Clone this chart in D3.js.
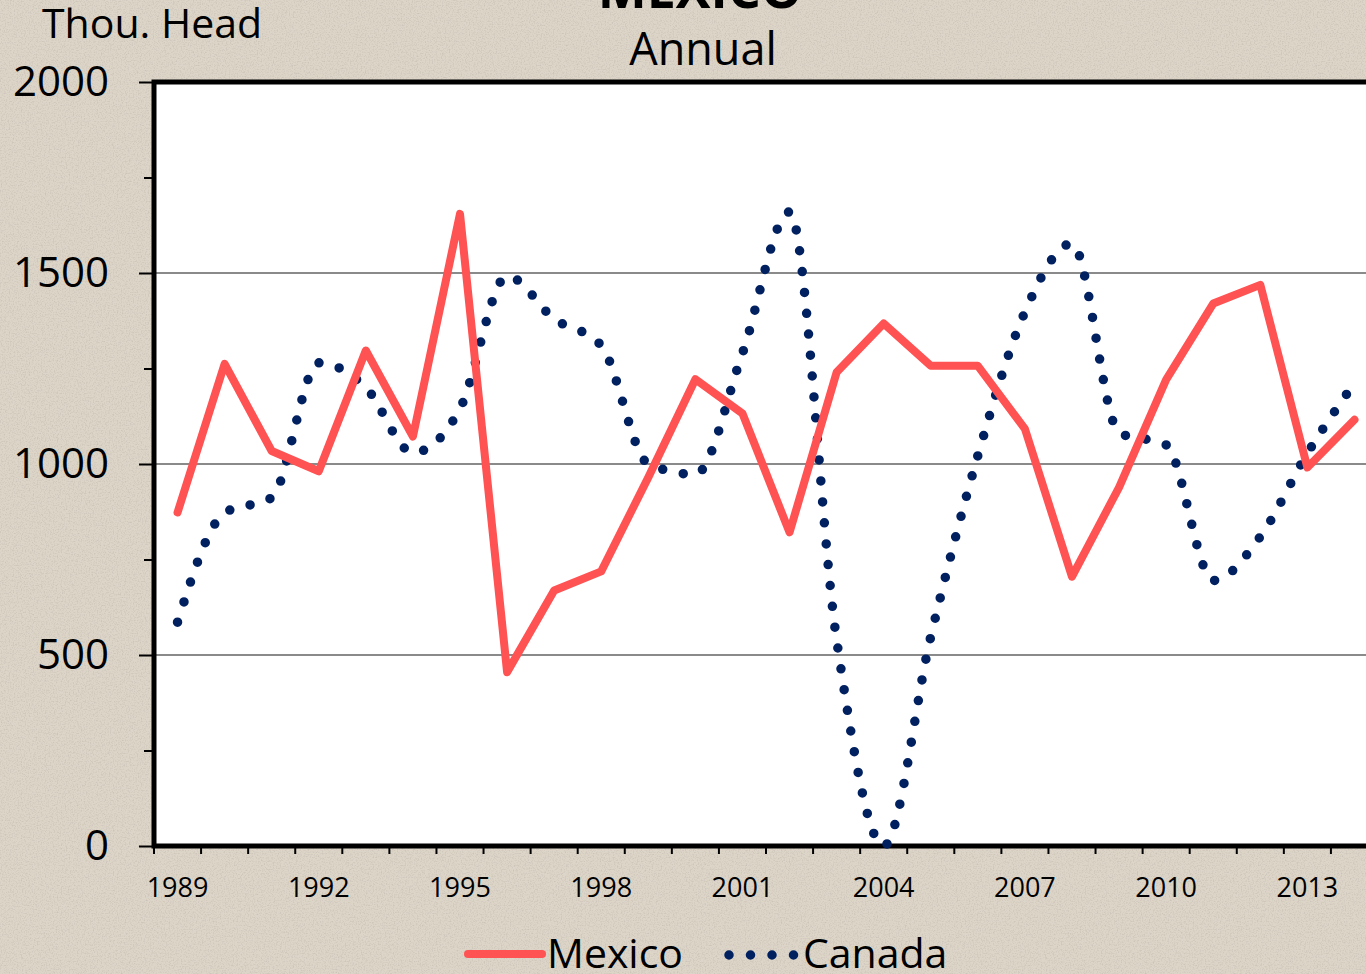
<!DOCTYPE html>
<html>
<head>
<meta charset="utf-8">
<script src="https://cdn.jsdelivr.net/npm/d3@7"></script>
<style>
body { margin: 0; background: #ddd5c7; overflow: hidden; }
text { font-family: "Open Sans", sans-serif; fill: #000; }
</style>
</head>
<body>
<script>
// categories and series
var years = [1989, 1990, 1991, 1992, 1993, 1994, 1995, 1996, 1997, 1998, 1999, 2000, 2001,
             2002, 2003, 2004, 2005, 2006, 2007, 2008, 2009, 2010, 2011, 2012, 2013, 2014];
var mexico = [873, 1262, 1034, 981, 1297, 1072, 1655, 455, 669, 719, 965, 1222, 1132,
              821, 1240, 1368, 1257, 1257, 1092, 705, 939, 1221, 1420, 1469, 991, 1116];
var canada = [586, 872, 912, 1265, 1200, 1030, 1145, 1492, 1380, 1310, 1000, 973, 1290,
              1660, 540, 0, 548, 1022, 1398, 1577, 1082, 1050, 695, 810, 1028, 1212];
var yMajor = [0, 500, 1000, 1500, 2000];
var yMinor = [250, 750, 1250, 1750];
var xLabels = [1989, 1992, 1995, 1998, 2001, 2004, 2007, 2010, 2013];

var W = 1366, H = 974;
var plotL = 154, plotT = 82, plotB = 846, plotR = 1378;

var svg = d3.select("body").append("svg").attr("width", W).attr("height", H);

// paper texture
var defs = svg.append("defs");
var f = defs.append("filter").attr("id", "paper").attr("x", 0).attr("y", 0).attr("width", "100%").attr("height", "100%");
f.append("feTurbulence").attr("type", "fractalNoise").attr("baseFrequency", 0.75).attr("numOctaves", 2).attr("seed", 4);
f.append("feColorMatrix").attr("type", "matrix")
  .attr("values", "0 0 0 0 0.5  0 0 0 0 0.46  0 0 0 0 0.4  0 0 0 -2.6 1.45");
svg.append("rect").attr("width", W).attr("height", H).attr("fill", "#ddd5c8");
svg.append("rect").attr("width", W).attr("height", H).attr("filter", "url(#paper)").attr("opacity", 0.5);

var x = d3.scaleBand().domain(years).range([plotL, plotR]).padding(0);
var y = d3.scaleLinear().domain([0, 2000]).range([plotB, plotT]);
var cx = function(d) { return x(d) + x.bandwidth() / 2; };

// plot area
svg.append("rect").attr("x", plotL).attr("y", plotT).attr("width", plotR - plotL).attr("height", plotB - plotT)
  .attr("fill", "#fff");

// gridlines
svg.append("g").selectAll("line").data([500, 1000, 1500]).enter().append("line")
  .attr("x1", plotL).attr("x2", plotR)
  .attr("y1", d => y(d)).attr("y2", d => y(d))
  .attr("stroke", "#8a8a8a").attr("stroke-width", 2);

// y axis
var yAxis = svg.append("g").attr("transform", "translate(" + plotL + ",0)")
  .call(d3.axisLeft(y).tickValues(yMajor).tickSize(15).tickPadding(30).tickFormat(d3.format("d")));
svg.append("g").attr("transform", "translate(" + plotL + ",0)")
  .call(d3.axisLeft(y).tickValues(yMinor).tickSize(10).tickFormat(""));
svg.selectAll(".domain").remove();
svg.selectAll(".tick line").attr("stroke", "#000").attr("stroke-width", 2);
yAxis.selectAll("text").attr("font-size", 42).attr("dy", "0.33em").style("font-family", "'Open Sans', sans-serif");

// x axis ticks at category boundaries
var bounds = years.map(d => x(d));
svg.append("g").selectAll("line").data(bounds).enter().append("line")
  .attr("x1", d => d).attr("x2", d => d)
  .attr("y1", plotB).attr("y2", plotB + 8)
  .attr("stroke", "#000").attr("stroke-width", 2);
svg.append("g").selectAll("text").data(xLabels).enter().append("text")
  .attr("x", d => cx(d)).attr("y", 897)
  .attr("text-anchor", "middle").attr("font-size", 27)
  .text(d => d);

// frame
svg.append("rect").attr("x", plotL).attr("y", plotT).attr("width", plotR - plotL).attr("height", plotB - plotT)
  .attr("fill", "none").attr("stroke", "#000").attr("stroke-width", 5);

// series
var lineM = d3.line().x((d, i) => cx(years[i])).y(d => y(d));
var lineC = d3.line().x((d, i) => cx(years[i])).y(d => y(d)).curve(d3.curveMonotoneX);

svg.append("path").datum(canada).attr("d", lineC)
  .attr("fill", "none").attr("stroke", "#002060").attr("stroke-width", 9.5)
  .attr("stroke-linecap", "round").attr("stroke-dasharray", "0 21");

svg.append("path").datum(mexico).attr("d", lineM)
  .attr("fill", "none").attr("stroke", "#ff5252").attr("stroke-width", 8)
  .attr("stroke-linejoin", "round").attr("stroke-linecap", "round");

// titles
svg.append("text").attr("x", 700).attr("y", 8).attr("text-anchor", "middle")
  .attr("font-size", 52).attr("font-weight", "bold").text("MEXICO");
svg.append("text").attr("x", 703).attr("y", 65).attr("text-anchor", "middle")
  .attr("font-size", 45).text("Annual");
svg.append("text").attr("x", 42).attr("y", 38).attr("font-size", 41).text("Thou. Head");

// legend
var leg = svg.append("g");
leg.append("line").attr("x1", 468).attr("x2", 542).attr("y1", 954).attr("y2", 954)
  .attr("stroke", "#ff5252").attr("stroke-width", 8).attr("stroke-linecap", "round");
leg.append("text").attr("x", 547).attr("y", 968).attr("font-size", 41).text("Mexico");
leg.append("line").attr("x1", 729).attr("x2", 794).attr("y1", 955).attr("y2", 955)
  .attr("stroke", "#002060").attr("stroke-width", 9.5).attr("stroke-linecap", "round")
  .attr("stroke-dasharray", "0 21.5");
leg.append("text").attr("x", 803).attr("y", 968).attr("font-size", 41).text("Canada");
</script>
</body>
</html>
